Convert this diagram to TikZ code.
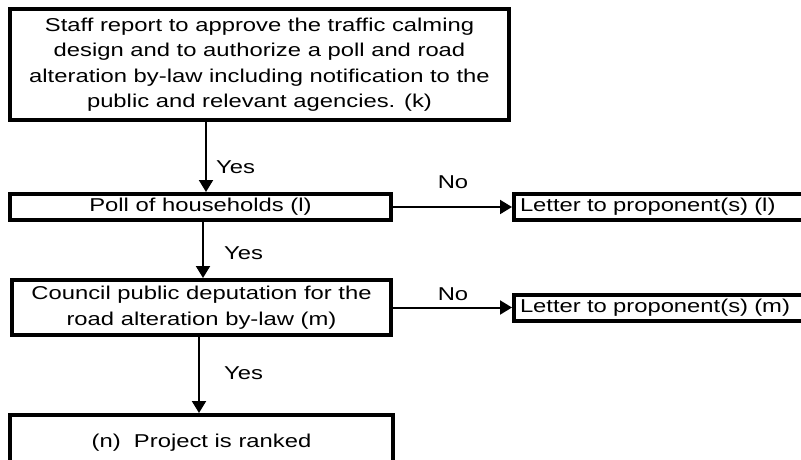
\documentclass[tikz,border=0pt]{standalone}
\usepackage{fontspec}
\setmainfont{Liberation Sans}[FakeStretch=1.28]
\usetikzlibrary{arrows.meta,calc}
\begin{document}
\begin{tikzpicture}[x=1pt,y=-1pt,
  box/.style={draw,line width=4pt,inner sep=0pt,font=\fontsize{18.6}{25.5}\selectfont,align=center},
  sidebox/.style={box,align=left,text width=308pt,inner xsep=6pt,minimum height=26pt,anchor=west},
  arr/.style={line width=2pt,-{Triangle[length=12pt,width=14pt]}},
  lab/.style={font=\fontsize{18.6}{24}\selectfont,inner sep=0pt}]
\useasboundingbox (0,0) rectangle (801,459);
\clip (0,0) rectangle (801,459);
\node[box,minimum width=499pt,minimum height=111pt] (k) at (259.5,64.5)
  {Staff report to approve the traffic calming\\design and to authorize a poll and road\\alteration by-law including notification to the\\public and relevant agencies. (k)};
\node[box,minimum width=381pt,minimum height=26pt] (l) at (200.5,207) {Poll of households (l)};
\node[sidebox] (lno) at (512,207) {Letter to proponent(s) (l)};
\node[box,minimum width=379pt,minimum height=55pt] (m) at (201.5,307.5) {Council public deputation for the\\road alteration by-law (m)};
\node[sidebox] (mno) at (512,307.5) {Letter to proponent(s) (m)};
\node[box,minimum width=383pt,minimum height=56pt,anchor=north] (n) at (201.5,413) {(n)\ \ Project is ranked};
\coordinate (a1) at (206,0);
\coordinate (a2) at (203,0);
\coordinate (a3) at (199,0);
\draw[arr] (k.south -| a1) -- (l.north -| a1);
\draw[arr] (l.south -| a2) -- (m.north -| a2);
\draw[arr] (m.south -| a3) -- (n.north -| a3);
\draw[arr] (l.east) -- (lno.west);
\draw[arr] (m.east) -- (mno.west);
\node[lab,anchor=west] (y1) at (216,167) {Yes};
\node[lab,anchor=west] (y2) at (224,253) {Yes};
\node[lab,anchor=west] (y3) at (224,373) {Yes};
\node[lab] (n1) at (453,182) {No};
\node[lab] (n2) at (453,294) {No};
\end{tikzpicture}
\end{document}
